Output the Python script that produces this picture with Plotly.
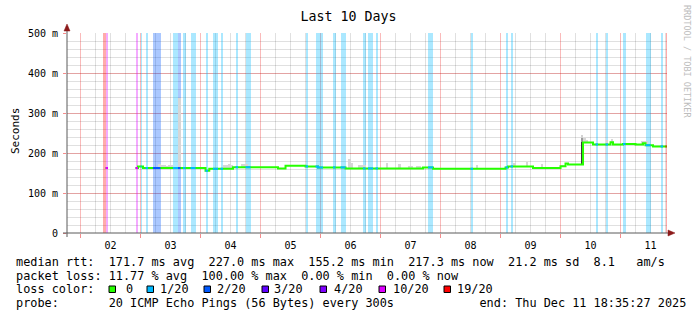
import plotly.graph_objects as go
from datetime import datetime, timedelta

# ---------------- data ----------------
title_text = "Last 10 Days"
end_time = datetime(2025, 12, 11, 18, 35, 27)
start_time = end_time - timedelta(days=10)
hour0 = datetime(2025, 12, 2, 0, 0, 0)          # hours below are counted from here

day_labels = ["02", "03", "04", "05", "06", "07", "08", "09", "10", "11"]
y_tick_ms = [0, 100, 200, 300, 400, 500]
y_tick_text = ["0", "100 m", "200 m", "300 m", "400 m", "500 m"]

# median RTT as a step series (hour where the level starts, ms; None = no data)
rtt_hours = [10, 11, 22, 23, 25, 50, 51.5, 61, 79, 82, 90, 95, 106, 137, 141,
             170, 171, 181, 192, 194, 195, 201, 205, 212, 213, 217, 222, 225,
             226, 229, 234.59]
rtt_ms = [162.5, None, 162.5, 166, 162.5, 155.5, 160.5, 164.5, 161, 168, 166.5,
          164, 161.5, 164, 160.5, 164, 166.5, 162.5, 167, 174, 171, 226.5,
          221.5, 227, 221.5, 222.5, 221, 224.5, 219.5, 216.5, 216.5]

# packet loss periods (start hour, end hour, loss level)
loss_start_h = [9, 10, 22, 24, 26, 29, 37, 39, 41, 44, 50, 53, 56, 62, 66, 90, 94,
                101, 104, 113, 115, 118, 139, 156, 170, 172, 206, 210, 217, 226,
                232, 234]
loss_end_h = [10, 11, 23, 24.4, 27, 32, 39, 40, 42, 46, 51, 55, 57, 63, 68, 91, 97,
              102, 106, 114, 117, 119, 141, 157, 171, 173, 207, 211, 218, 228,
              233, 234.4]
loss_level = ["19/20", "10/20", "10/20", "1/20", "1/20", "2/20", "1/20", "2/20",
              "1/20", "1/20", "1/20", "1/20", "1/20", "1/20", "1/20", "1/20",
              "1/20", "1/20", "1/20", "1/20", "1/20", "1/20", "1/20", "1/20",
              "1/20", "1/20", "1/20", "1/20", "1/20", "1/20", "1/20", "19/20"]

# smoke (spread of the pings above the median), hour and top in ms
smoke_h = [31, 32, 33, 34, 35, 36, 39, 57, 58, 59, 60, 64, 65, 66, 107, 108, 111,
           112, 113, 122, 127, 131, 132, 134, 135, 158, 173, 178, 184, 192, 193,
           201, 202, 210, 212, 224, 225, 226]
smoke_top_ms = [172, 169, 170, 168, 169, 170, 338, 171, 170, 172, 171, 173, 172,
                172, 186, 175, 170, 169, 170, 175, 172, 168, 167, 168, 167, 170,
                175, 178, 172, 170, 169, 237, 232, 232, 235, 231, 230, 229]
# the wide spread in the hour of the level jump
jump_smoke_h = 200.5
jump_smoke_low_ms = [171, 227, 237]
jump_smoke_high_ms = [227, 237, 245]

loss_names = ["0", "1/20", "2/20", "3/20", "4/20", "10/20", "19/20"]
loss_colors = ["#26ff00", "#00b8ff", "#0059ff", "#5e00ff", "#7e00ff", "#dd00ff", "#ff0000"]

row_median = "median rtt:  171.7 ms avg  227.0 ms max  155.2 ms min  217.3 ms now  21.2 ms sd  8.1   am/s"
row_loss = "packet loss: 11.77 % avg  100.00 % max  0.00 % min  0.00 % now"
row_color = "loss color:"
row_probe = "probe:       20 ICMP Echo Pings (56 Bytes) every 300s            end: Thu Dec 11 18:35:27 2025"
credit = "RRDTOOL / TOBI OETIKER"

# ---------------- helpers ----------------
def t(h):
    return hour0 + timedelta(hours=h)

def value_at(h):
    v = None
    for hh, vv in zip(rtt_hours, rtt_ms):
        if hh <= h + 1e-9:
            v = vv
        else:
            break
    return v

def hex_rgba(hx, a):
    hx = hx.lstrip("#")
    r, g, b = int(hx[0:2], 16), int(hx[2:4], 16), int(hx[4:6], 16)
    return f"rgba({r},{g},{b},{a})"

color_of = dict(zip(loss_names, loss_colors))
MONO = "DejaVu Sans Mono"

# plot-area pixel geometry (for text placed around the plot)
PL, PW, PT, PH = 67, 600, 33, 200
def px(x):
    return (x - PL) / PW
def py(y):
    return (PT + PH - y) / PH

fig = go.Figure()

# loss bars (full height, light shade of the loss colour)
y_max = y_tick_ms[-1]
for name in loss_names:
    idx = [i for i, l in enumerate(loss_level) if l == name]
    if not idx:
        continue
    xs = [t((loss_start_h[i] + loss_end_h[i]) / 2) for i in idx]
    ws = [(loss_end_h[i] - loss_start_h[i]) * 3600000 for i in idx]
    fig.add_trace(go.Bar(x=xs, y=[y_max] * len(idx), width=ws, base=0,
                         marker=dict(color=hex_rgba(color_of[name], 0.33), line=dict(width=0)),
                         hoverinfo="skip", showlegend=False))

# smoke
sx, sb, sy = [], [], []
for h, top in zip(smoke_h, smoke_top_ms):
    base = value_at(h)
    if base is None:
        continue
    sx.append(t(h + 0.5)); sb.append(base); sy.append(top - base)
fig.add_trace(go.Bar(x=sx, y=sy, base=sb, width=3600000,
                     marker=dict(color="#d6d6d6", line=dict(width=0)),
                     hoverinfo="skip", showlegend=False))
for lo, hi, col in zip(jump_smoke_low_ms, jump_smoke_high_ms, ["#3a3a3a", "#9a9a9a", "#d2d2d2"]):
    fig.add_trace(go.Bar(x=[t(jump_smoke_h)], y=[hi - lo], base=[lo], width=3600000,
                         marker=dict(color=col, line=dict(width=0)),
                         hoverinfo="skip", showlegend=False))

# median line (green = no loss)
lx, ly = [], []
prev = None
for h, v in zip(rtt_hours, rtt_ms):
    if v is None:
        if prev is not None:
            lx.append(t(h)); ly.append(prev)
        lx.append(t(h)); ly.append(None)
    else:
        lx.append(t(h)); ly.append(v)
    prev = v
fig.add_trace(go.Scatter(x=lx, y=ly, mode="lines", line=dict(color=color_of["0"], width=2, shape="hv"),
                         connectgaps=False, hoverinfo="skip", showlegend=False))

# median line segments coloured by loss
for name in loss_names[1:]:
    xs, ys = [], []
    for s, e, l in zip(loss_start_h, loss_end_h, loss_level):
        if l != name:
            continue
        pts = [s] + [h for h in rtt_hours if s < h < e]
        vals = [value_at(p) for p in pts]
        if any(v is None for v in vals):
            continue
        for p, v in zip(pts, vals):
            xs.append(t(p)); ys.append(v)
        xs.append(t(e)); ys.append(vals[-1])
        xs.append(t(e)); ys.append(None)
    if xs:
        fig.add_trace(go.Scatter(x=xs, y=ys, mode="lines",
                                 line=dict(color=color_of[name], width=2, shape="hv"),
                                 connectgaps=False, hoverinfo="skip", showlegend=False))

# dummy trace for the label axis
noons = [t(12 + 24 * i) for i in range(len(day_labels))]
fig.add_trace(go.Scatter(x=[noons[0]], y=[None], xaxis="x2", showlegend=False, hoverinfo="skip"))

RED_GRID = "rgba(235,0,0,0.27)"
GRAY_GRID = "rgba(0,0,0,0.12)"

fig.update_layout(
    width=697, height=321,
    margin=dict(l=PL, r=697 - PL - PW, t=PT, b=321 - PT - PH),
    paper_bgcolor="white", plot_bgcolor="white",
    barmode="overlay", bargap=0, showlegend=False,
    title=dict(text=title_text, x=0.5, xanchor="center", y=1 - 16 / 321, yanchor="middle",
               font=dict(family=MONO, size=13.3, color="black")),
    xaxis=dict(type="date", range=[start_time, end_time], tickmode="linear",
               tick0=hour0, dtick=86400000, showgrid=True, gridcolor=RED_GRID, gridwidth=1,
               ticks="outside", ticklen=4, tickcolor="rgba(235,0,0,0.45)", tickwidth=1,
               showticklabels=False, showline=False, zeroline=False,
               minor=dict(tick0=hour0, dtick=6 * 3600000, showgrid=True, gridcolor=GRAY_GRID,
                          ticks="")),
    xaxis2=dict(type="date", range=[start_time, end_time], overlaying="x", side="bottom",
                tickmode="array", tickvals=noons, ticktext=day_labels, showgrid=False,
                ticks="", showline=False, zeroline=False, ticklabelstandoff=5,
                tickfont=dict(family=MONO, size=10, color="black")),
    yaxis=dict(range=[0, y_max], tickmode="array", tickvals=y_tick_ms, ticktext=y_tick_text,
               showgrid=True, gridcolor=RED_GRID, gridwidth=1, zeroline=False, showline=False,
               ticks="outside", ticklen=3, tickcolor="rgba(235,0,0,0.45)", ticklabelstandoff=3,
               tickfont=dict(family=MONO, size=10, color="black"),
               minor=dict(dtick=20, tick0=0, showgrid=True, gridcolor=GRAY_GRID, ticks="")),
)

AXIS = "#5a5a5a"
ARROW = "#8c1a1a"
shapes = [
    dict(type="line", xref="paper", yref="paper", x0=0, x1=0, y0=py(237), y1=py(27),
         line=dict(color=AXIS, width=1)),
    dict(type="line", xref="paper", yref="paper", x0=px(63), x1=px(670), y0=0, y1=0,
         line=dict(color=AXIS, width=1)),
    dict(type="path", xref="paper", yref="paper",
         path=f"M {px(64)} {py(31)} L {px(67)} {py(24)} L {px(70)} {py(31)} Z",
         fillcolor=ARROW, line=dict(color=ARROW, width=0.5)),
    dict(type="path", xref="paper", yref="paper",
         path=f"M {px(668)} {py(230)} L {px(675)} {py(233)} L {px(668)} {py(236)} Z",
         fillcolor=ARROW, line=dict(color=ARROW, width=0.5)),
]

# loss colour legend swatches and labels
sw_x = [109, 147, 204, 262, 320, 379, 444]
lab_x = [124, 157.5, 215, 271.5, 331.5, 390.5, 455]
for name, x0 in zip(loss_names, sw_x):
    shapes.append(dict(type="rect", xref="paper", yref="paper", x0=px(x0), x1=px(x0 + 6.5),
                       y0=py(292.5), y1=py(286), fillcolor=color_of[name],
                       line=dict(color="black", width=1)))
fig.update_layout(shapes=shapes)

def nb(s):
    return s.replace(" ", "\u00a0")

ann = []
for txt, yy in [(row_median, 262), (row_loss, 275.5), (row_color, 289), (row_probe, 302.5)]:
    ann.append(dict(text=nb(txt), x=px(14), y=py(yy), xref="paper", yref="paper",
                    xanchor="left", yanchor="middle", showarrow=False,
                    font=dict(family=MONO, size=11.85, color="black")))
for name, x0 in zip(loss_names, lab_x):
    ann.append(dict(text=nb(name), x=px(x0), y=py(289), xref="paper", yref="paper",
                    xanchor="left", yanchor="middle", showarrow=False,
                    font=dict(family=MONO, size=11.85, color="black")))
ann.append(dict(text="Seconds", x=px(15), y=py(131), xref="paper", yref="paper",
                xanchor="center", yanchor="middle", textangle=-90, showarrow=False,
                font=dict(family=MONO, size=11, color="black")))
ann.append(dict(text=nb(credit), x=px(687), y=py(61), xref="paper", yref="paper",
                xanchor="center", yanchor="middle", textangle=90, showarrow=False,
                font=dict(family=MONO, size=8.5, color="#bdbdbd")))
fig.update_layout(annotations=ann)

fig.write_html("out.html")
